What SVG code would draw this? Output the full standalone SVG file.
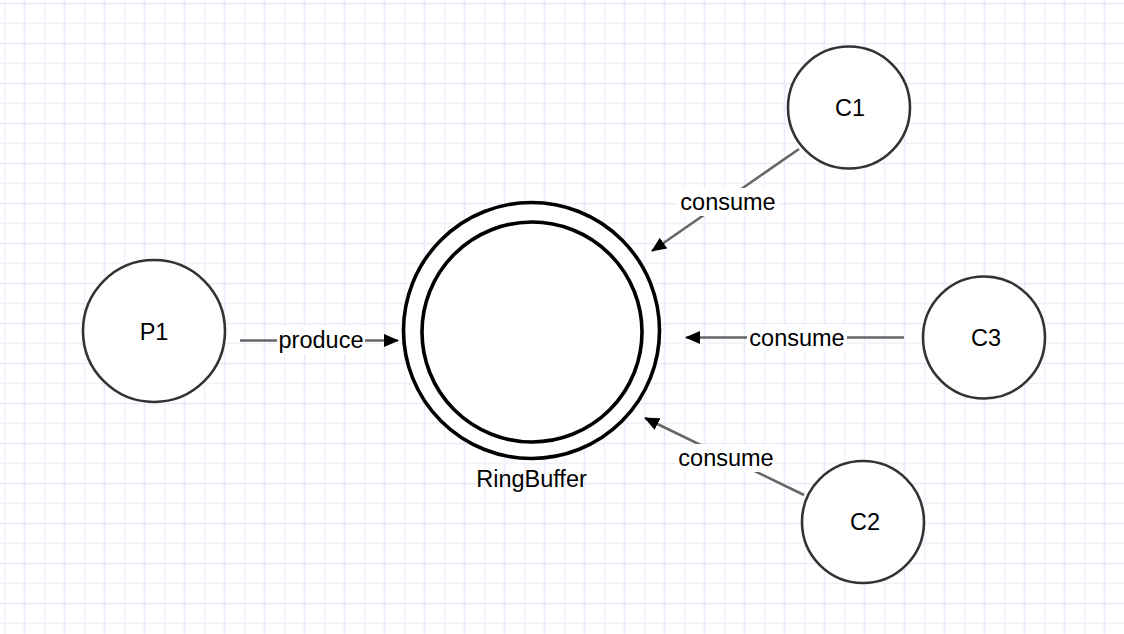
<svg xmlns="http://www.w3.org/2000/svg" width="1124" height="634" viewBox="0 0 1124 634">
  <style>
    .node { fill: #ffffff; stroke: #333333; stroke-width: 2.6; }
    .ring { fill: #ffffff; stroke: #000000; stroke-width: 3.6; }
    .label { font-family: "Liberation Sans", Arial, Helvetica, sans-serif; font-size: 23.5px; fill: #000000; text-anchor: middle; }
    .edge { stroke: #666666; stroke-width: 2.6; fill: none; }
    .lblbg { fill: #ffffff; }
  </style>
  <defs>
    <pattern id="grid" patternUnits="userSpaceOnUse" x="4" y="3" width="40" height="40">
      <rect width="40" height="40" fill="#ffffff"/>
      <line x1="0.5" y1="0" x2="0.5" y2="40" stroke="#f0f0fd" stroke-width="1.6"/>
      <line x1="20.5" y1="0" x2="20.5" y2="40" stroke="#e9e9fc" stroke-width="1.6"/>
      <line x1="0" y1="0.5" x2="40" y2="0.5" stroke="#e9e9fc" stroke-width="1.6"/>
      <line x1="0" y1="20.5" x2="40" y2="20.5" stroke="#f0f0fd" stroke-width="1.6"/>
    </pattern>
    <marker id="arrow" viewBox="0 0 15 13" refX="14" refY="6.5" markerWidth="15" markerHeight="13" markerUnits="userSpaceOnUse" orient="auto">
      <path d="M0,0 L15,6.5 L0,13 Z" fill="#000000"/>
    </marker>
  </defs>

  <rect x="0" y="0" width="1124" height="634" fill="url(#grid)"/>

  <g id="connectors">
    <line class="edge" x1="240" y1="340.5" x2="398" y2="340.5" marker-end="url(#arrow)"/>
    <rect class="lblbg" x="277" y="326" width="88" height="28"/>
    <text class="label" x="321" y="348">produce</text>

    <line class="edge" x1="799" y1="149" x2="652" y2="251" marker-end="url(#arrow)"/>
    <rect class="lblbg" x="678" y="188" width="100" height="28"/>
    <text class="label" x="728" y="210">consume</text>

    <line class="edge" x1="904" y1="337.5" x2="686" y2="337.5" marker-end="url(#arrow)"/>
    <rect class="lblbg" x="747" y="324" width="100" height="28"/>
    <text class="label" x="797" y="346">consume</text>

    <line class="edge" x1="804" y1="495" x2="645" y2="418" marker-end="url(#arrow)"/>
    <rect class="lblbg" x="676" y="444" width="100" height="28"/>
    <text class="label" x="726" y="466">consume</text>
  </g>

  <g id="P1">
    <circle class="node" cx="154" cy="331" r="71"/>
    <text class="label" x="154" y="340">P1</text>
  </g>

  <g id="RingBuffer">
    <circle class="ring" cx="531.5" cy="330.5" r="128"/>
    <circle class="ring" cx="532" cy="332" r="110"/>
    <text class="label" x="531.5" y="487">RingBuffer</text>
  </g>

  <g id="C1">
    <circle class="node" cx="849" cy="107.5" r="61"/>
    <text class="label" x="850" y="116">C1</text>
  </g>

  <g id="C3">
    <circle class="node" cx="984" cy="337.5" r="61"/>
    <text class="label" x="986" y="346">C3</text>
  </g>

  <g id="C2">
    <circle class="node" cx="863" cy="522" r="61"/>
    <text class="label" x="865" y="530">C2</text>
  </g>
</svg>
